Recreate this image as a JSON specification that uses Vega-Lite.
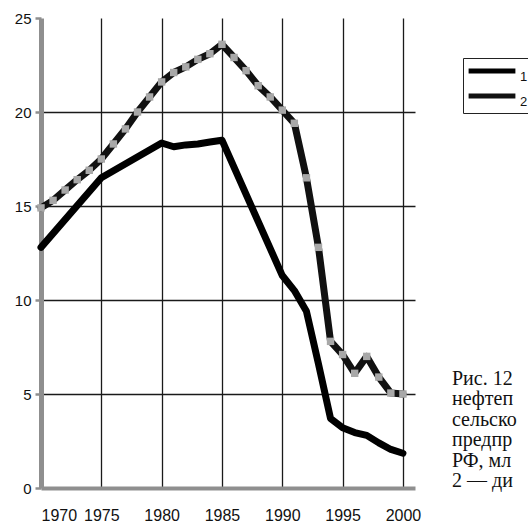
{
  "$schema": "https://vega.github.io/schema/vega-lite/v6.json",
  "background": "white",
  "padding": {"left": 14, "top": 11, "right": 0, "bottom": 0},
  "config": {"view": {"stroke": null}, "font": "Liberation Sans"},
  "datasets": {
    "series": [
      {"year": 1970, "value": 12.8, "series": "1"},
      {"year": 1975, "value": 16.5, "series": "1"},
      {"year": 1980, "value": 18.35, "series": "1"},
      {"year": 1981, "value": 18.15, "series": "1"},
      {"year": 1982, "value": 18.25, "series": "1"},
      {"year": 1983, "value": 18.3, "series": "1"},
      {"year": 1984, "value": 18.4, "series": "1"},
      {"year": 1985, "value": 18.5, "series": "1"},
      {"year": 1990, "value": 11.3, "series": "1"},
      {"year": 1991, "value": 10.5, "series": "1"},
      {"year": 1992, "value": 9.4, "series": "1"},
      {"year": 1993, "value": 6.6, "series": "1"},
      {"year": 1994, "value": 3.7, "series": "1"},
      {"year": 1995, "value": 3.2, "series": "1"},
      {"year": 1996, "value": 2.95, "series": "1"},
      {"year": 1997, "value": 2.8, "series": "1"},
      {"year": 1998, "value": 2.4, "series": "1"},
      {"year": 1999, "value": 2.05, "series": "1"},
      {"year": 2000, "value": 1.85, "series": "1"},
      {"year": 1970, "value": 14.9, "series": "2"},
      {"year": 1971, "value": 15.3, "series": "2"},
      {"year": 1972, "value": 15.85, "series": "2"},
      {"year": 1973, "value": 16.4, "series": "2"},
      {"year": 1974, "value": 16.9, "series": "2"},
      {"year": 1975, "value": 17.5, "series": "2"},
      {"year": 1976, "value": 18.3, "series": "2"},
      {"year": 1977, "value": 19.1, "series": "2"},
      {"year": 1978, "value": 20.0, "series": "2"},
      {"year": 1979, "value": 20.8, "series": "2"},
      {"year": 1980, "value": 21.6, "series": "2"},
      {"year": 1981, "value": 22.1, "series": "2"},
      {"year": 1982, "value": 22.4, "series": "2"},
      {"year": 1983, "value": 22.8, "series": "2"},
      {"year": 1984, "value": 23.1, "series": "2"},
      {"year": 1985, "value": 23.6, "series": "2"},
      {"year": 1986, "value": 22.9, "series": "2"},
      {"year": 1987, "value": 22.2, "series": "2"},
      {"year": 1988, "value": 21.4, "series": "2"},
      {"year": 1989, "value": 20.8, "series": "2"},
      {"year": 1990, "value": 20.1, "series": "2"},
      {"year": 1991, "value": 19.4, "series": "2"},
      {"year": 1992, "value": 16.5, "series": "2"},
      {"year": 1993, "value": 12.8, "series": "2"},
      {"year": 1994, "value": 7.8, "series": "2"},
      {"year": 1995, "value": 7.1, "series": "2"},
      {"year": 1996, "value": 6.1, "series": "2"},
      {"year": 1997, "value": 7.0, "series": "2"},
      {"year": 1998, "value": 5.9, "series": "2"},
      {"year": 1999, "value": 5.05, "series": "2"},
      {"year": 2000, "value": 5.0, "series": "2"}
    ],
    "caption": [
      {"line": 1, "text": "Рис. 12"},
      {"line": 2, "text": "нефтеп"},
      {"line": 3, "text": "сельско"},
      {"line": 4, "text": "предпр"},
      {"line": 5, "text": "РФ, мл"},
      {"line": 6, "text": "2 — ди"}
    ]
  },
  "spacing": 30,
  "hconcat": [
    {
      "width": 374,
      "height": 470,
      "data": {"name": "series"},
      "layer": [
        {
          "mark": {"type": "line", "strokeWidth": 7, "strokeJoin": "round", "strokeCap": "round"},
          "encoding": {
            "x": {
              "field": "year", "type": "quantitative",
              "scale": {"domain": [1970, 2001], "nice": false, "zero": false},
              "axis": {
                "title": null, "values": [1970, 1975, 1980, 1985, 1990, 1995, 2000], "format": "d",
                "labelFontSize": 16, "labelColor": "#111", "ticks": false, "labelPadding": 19,
                "domainColor": "#8f8f8f", "domainWidth": 4,
                "grid": true, "gridColor": "#1a1a1a", "gridWidth": 1.3,
                "gridOpacity": {"condition": {"test": "datum.value == 1970", "value": 0}, "value": 1}
              }
            },
            "y": {
              "field": "value", "type": "quantitative",
              "scale": {"domain": [0, 25], "nice": false},
              "axis": {
                "title": null, "values": [0, 5, 10, 15, 20, 25],
                "labelFontSize": 15, "labelColor": "#111", "labelPadding": 4,
                "tickSize": 6, "tickColor": "#8f8f8f", "tickWidth": 2.5,
                "domainColor": "#8f8f8f", "domainWidth": 5,
                "grid": true, "gridColor": "#1a1a1a", "gridWidth": 1.3,
                "gridOpacity": {"condition": {"test": "datum.value == 0 || datum.value == 25", "value": 0}, "value": 1}
              }
            },
            "color": {
              "field": "series", "type": "nominal",
              "scale": {"domain": ["1", "2"], "range": ["#000000", "#111111"]},
              "legend": {
                "orient": "none", "legendX": 422, "legendY": 40, "title": null,
                "symbolType": "M-3.6,0H3.6", "symbolSize": 169, "symbolStrokeWidth": 5,
                "symbolOffset": 16,
                "strokeColor": "#222", "padding": 4, "labelFontSize": 13, "labelColor": "#111",
                "labelBaseline": "top",
                "rowPadding": 2, "labelOffset": 19
              }
            }
          }
        },
        {
          "transform": [{"filter": "datum.series == '2'"}],
          "mark": {"type": "point", "shape": "square", "filled": true, "size": 55, "color": "#a8a8a8", "opacity": 1},
          "encoding": {
            "x": {"field": "year", "type": "quantitative"},
            "y": {"field": "value", "type": "quantitative"}
          }
        }
      ]
    },
    {
      "width": 2,
      "height": 470,
      "data": {"name": "caption"},
      "mark": {"type": "text", "align": "left", "baseline": "middle", "font": "Liberation Serif", "fontSize": 20, "color": "#111"},
      "encoding": {
        "y": {"field": "line", "type": "ordinal", "axis": null, "scale": {"type": "point", "padding": 0, "range": [361, 463]}},
        "text": {"field": "text"}
      }
    }
  ]
}
